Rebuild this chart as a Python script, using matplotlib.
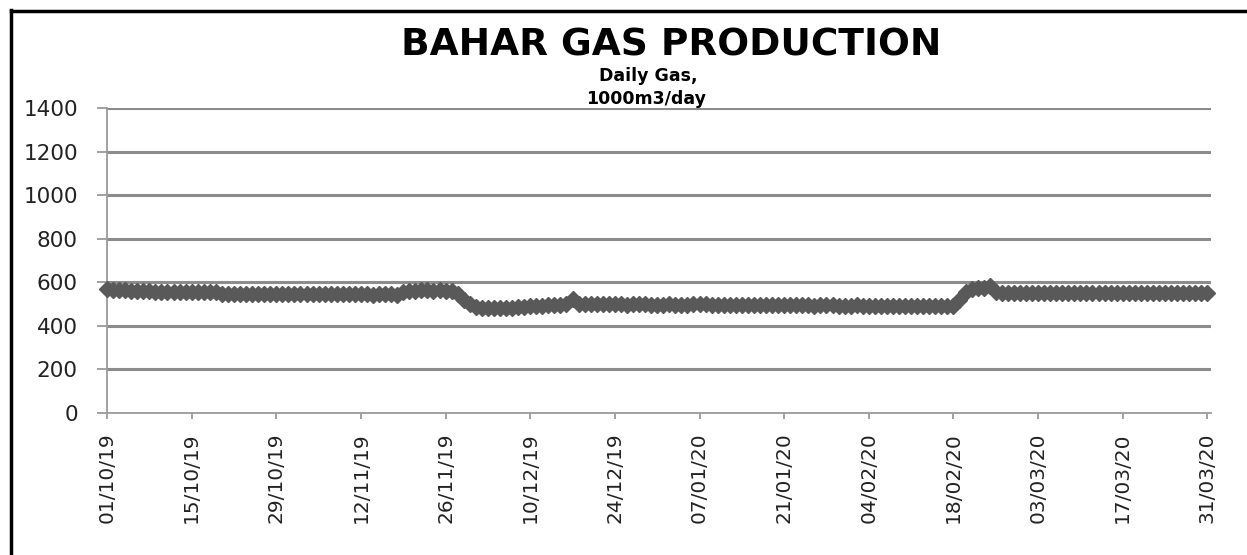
import numpy as np
import matplotlib
matplotlib.use("Agg")
import matplotlib.pyplot as plt
from matplotlib.lines import Line2D

# daily gas production, 1000 m3/day, 01/10/19 .. 31/03/20 (183 days)
start_date = "2019-10-01"
gas = [
    568, 566, 565, 563, 562, 560, 560,
    558, 557, 556, 556, 557, 556, 555, 556, 557, 556, 555, 554,
    548, 547, 546, 545, 546, 547, 546, 545, 546, 547, 548, 547, 546, 545, 546,
    547, 546, 545, 546, 545, 544, 545, 546, 545, 544, 543, 544, 545, 544, 543,
    555, 560, 562, 563, 563, 562, 563, 562, 560,
    545, 520, 500, 488, 484,
    483, 482, 483, 484, 483, 485, 487, 489, 490, 492, 494, 495, 497, 500,
    525,
    501, 500, 499, 500, 502, 501, 500, 499, 498, 499, 500, 499, 498,
    497, 498, 499, 498, 497, 498, 499, 500, 499, 498, 497, 498, 497, 496, 497,
    498, 497, 496, 495, 496,
    495, 496, 495, 494, 495, 494, 493, 494, 495, 494, 493, 492, 493, 494, 493,
    492, 491, 492, 491, 490,
    491, 490, 489, 490, 491, 490, 489, 490, 491, 492,
    520, 555, 568, 572, 576, 582,
    556, 553, 551, 550, 551, 552, 551, 550, 551, 552, 553, 552, 551, 550, 551,
    552, 551, 550, 549, 550, 551, 552, 551, 550, 551, 552, 551, 550, 551, 552,
    553, 552, 551, 552, 553, 552,
]
y_ticks = [0, 200, 400, 600, 800, 1000, 1200, 1400]
title = "BAHAR GAS PRODUCTION"
subtitle_lines = ["Daily Gas,", "1000m3/day"]

dates = np.arange(np.datetime64(start_date), np.datetime64(start_date) + len(gas))
days = np.arange(len(gas))
tick_days = days[::14]
tick_labels = [str(d.astype(object).strftime("%d/%m/%y")) for d in dates[::14]]

W, H = 1247, 555
fig = plt.figure(figsize=(W / 100, H / 100), dpi=100)
ax = fig.add_axes([107 / W, (H - 413) / H, (1211 - 107) / W, (413 - 108) / H])

grid_c = "#8c8c8c"
ax.plot(days, gas, color="#595959", lw=4, marker="D", ms=8.5,
        mec="#595959", mfc="#595959", mew=1, clip_on=False, zorder=3)

ax.set_xlim(0, 182.6)
ax.set_ylim(0, 1400)
ax.set_yticks(y_ticks)
ax.set_yticklabels([str(v) for v in y_ticks])
ax.set_xticks(tick_days)
ax.set_xticklabels(tick_labels, rotation=90)

for v in y_ticks[1:]:
    ax.axhline(v, color=grid_c, lw=2.2, zorder=1)

for s in ["top", "right"]:
    ax.spines[s].set_visible(False)
for s in ["left", "bottom"]:
    ax.spines[s].set_color("#9a9a9a")
    ax.spines[s].set_linewidth(1.3)

ax.tick_params(axis="y", length=7, width=1.3, color="#9a9a9a", pad=14,
               labelsize=15.5, labelcolor="#222222")
ax.tick_params(axis="x", length=4, width=1.3, color="#9a9a9a", pad=10,
               labelsize=14.5, labelcolor="#222222")

fig.text(671 / W, 1 - 55 / H, title, ha="center", va="baseline",
         fontsize=27, fontweight="bold", color="black")
fig.text(648 / W, 1 - 81 / H, subtitle_lines[0], ha="center", va="baseline",
         fontsize=12.5, fontweight="bold", color="black")
fig.text(646 / W, 1 - 104 / H, subtitle_lines[1], ha="center", va="baseline",
         fontsize=12.5, fontweight="bold", color="black")

# black frame on left and top edges
fig.add_artist(Line2D([11 / W, 11 / W], [0, 1 - 10 / H], color="black", lw=2.5,
                      transform=fig.transFigure))
fig.add_artist(Line2D([11 / W, 1], [1 - 11 / H, 1 - 11 / H], color="black", lw=2.5,
                      transform=fig.transFigure))

fig.savefig("out.png", dpi=100)
